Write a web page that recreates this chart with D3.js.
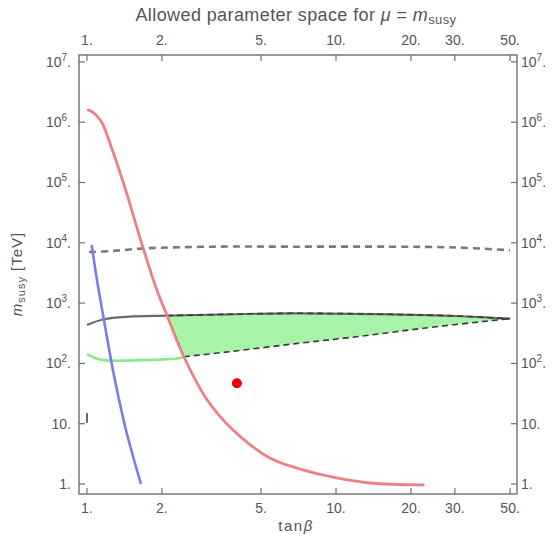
<!DOCTYPE html>
<html>
<head>
<meta charset="utf-8">
<script src="https://cdn.jsdelivr.net/npm/d3@7"></script>
<style>
  body { margin: 0; background: #fff; }
  text { font-family: "Liberation Sans", Arial, sans-serif; fill: #555; }
</style>
</head>
<body>
<svg id="chart" width="553" height="545"></svg>
<script>
// ---- data (tanβ on x, m_susy in TeV on y) ----
const xTicks = [1, 2, 5, 10, 20, 30, 50];
const xTickLabels = ["1.", "2.", "5.", "10.", "20.", "30.", "50."];
const yTicks = [1, 10, 1e2, 1e3, 1e4, 1e5, 1e6, 1e7];

// red bound
const redTan = [1.012, 1.05, 1.10, 1.152, 1.264, 1.43, 1.643, 1.888, 2.10, 2.45, 3.04, 3.86, 5.43, 7.37, 10.05, 13.7, 22.4];
const redM   = [1.59e6, 1.48e6, 1.25e6, 9.6e5, 3.47e5, 7.5e4, 1.11e4, 1870, 611, 129, 24.7, 7.87, 2.70, 1.71, 1.26, 1.04, 0.964];

// blue bound
const blueTan = [1.044, 1.097, 1.170, 1.249, 1.295, 1.434, 1.648];
const blueM   = [9180, 2415, 525, 114, 53, 7.87, 1.0];

// gray dashed upper bound
const grayTan = [1.02, 1.26, 1.72, 3.18, 6.91, 16.5, 30.6, 47.7, 50];
const grayM   = [7040, 7310, 8100, 8620, 8620, 8620, 8350, 7600, 7500];

// dark gray curve (upper edge of the allowed region)
const darkTan = [1.0, 1.17, 1.475, 2.10, 3.72, 6.54, 16.5, 30.6, 41.5, 50];
const darkM   = [433, 539, 595, 618, 652, 677, 652, 611, 573, 551];

// green curve
const greenTan = [1.0, 1.117, 1.264, 1.72, 2.34, 2.45];
const greenM   = [143, 117, 111, 114, 122, 129];

// lower edge of the allowed region
const lowerTan = [2.45, 3.72, 6.91, 12.1, 22.4, 41.5, 50];
const lowerM   = [129, 156, 213, 277, 382, 509, 551];

// short segment at tanβ = 1
const stubTan = [1.0, 1.0];
const stubM   = [10.3, 15];

// benchmark point
const pointTan = [4.0];
const pointM   = [47];

// ---- layout ----
const svg = d3.select("#chart");
const L = 79, R = 517, T = 55, B = 494;

const x = d3.scaleLog().domain([0.929, 53.3]).range([L, R]);
const y = d3.scaleLog().domain([0.683, 1.30e7]).range([B, T]);

const zip = (a, b) => a.map((v, i) => [v, b[i]]);
const mkLine = d3.line().x(d => x(d[0])).y(d => y(d[1])).curve(d3.curveCatmullRom.alpha(0.5));
const straight = d3.line().x(d => x(d[0])).y(d => y(d[1]));

const plot = svg.append("g");
plot.append("clipPath").attr("id", "clip")
  .append("rect").attr("x", L).attr("y", T).attr("width", R - L).attr("height", B - T);
const g = plot.append("g").attr("clip-path", "url(#clip)");

// allowed region: upper edge from the red crossing, lower edge back, closing along the red curve
const tUp = darkTan[darkTan.indexOf(2.10)];
const tLo = lowerTan[0];
const upperPts = zip(darkTan, darkM).filter(d => d[0] >= tUp);
const lowerPts = zip(lowerTan, lowerM).slice().reverse();
const redEdge = zip(redTan, redM).filter(d => d[0] >= tUp && d[0] <= tLo).reverse();

// region path: curved upper edge, curved lower edge, straight closing edge along red
const upperD = mkLine(upperPts);
const lowerD = mkLine(lowerPts).replace(/^M/, "L");
g.append("path")
  .attr("d", upperD + lowerD + "Z")
  .attr("fill", "#a8f3a8")
  .attr("stroke", "none");

// dark gray curve
g.append("path")
  .attr("d", mkLine(zip(darkTan, darkM)))
  .attr("fill", "none").attr("stroke", "#6a6a6a").attr("stroke-width", 2.2);

// green curve
g.append("path")
  .attr("d", mkLine(zip(greenTan, greenM)))
  .attr("fill", "none").attr("stroke", "#86ec86").attr("stroke-width", 2.6);

// dashed outline of the allowed region
const dashStyle = p => p.attr("fill", "none").attr("stroke", "#3a3a3a")
  .attr("stroke-width", 1.6).attr("stroke-dasharray", "6,4");
g.append("path").attr("d", mkLine(upperPts)).call(dashStyle);
g.append("path").attr("d", mkLine(zip(lowerTan, lowerM))).call(dashStyle);
g.append("path").attr("d", straight(redEdge)).call(dashStyle);

// gray dashed upper bound
g.append("path")
  .attr("d", mkLine(zip(grayTan, grayM)))
  .attr("fill", "none").attr("stroke", "#7a7a7a").attr("stroke-width", 2.6)
  .attr("stroke-dasharray", "7,5");

// short stub
g.append("path")
  .attr("d", straight(zip(stubTan, stubM)))
  .attr("fill", "none").attr("stroke", "#666").attr("stroke-width", 2);

// blue bound
g.append("path")
  .attr("d", mkLine(zip(blueTan, blueM)))
  .attr("fill", "none").attr("stroke", "#7b7bf0").attr("stroke-width", 2.6);

// red bound
g.append("path")
  .attr("d", mkLine(zip(redTan, redM)))
  .attr("fill", "none").attr("stroke", "#ef7f86").attr("stroke-width", 2.8)
  .attr("stroke-linecap", "round");

// benchmark point
g.selectAll("circle.pt").data(zip(pointTan, pointM)).enter().append("circle")
  .attr("class", "pt")
  .attr("cx", d => x(d[0])).attr("cy", d => y(d[1])).attr("r", 5)
  .attr("fill", "#ee0000");

// ---- frame and ticks ----
const frameColor = "#6f6f6f";
svg.append("rect").attr("x", L).attr("y", T).attr("width", R - L).attr("height", B - T)
  .attr("fill", "none").attr("stroke", frameColor).attr("stroke-width", 1.4);

const tickLen = 6;
const tickG = svg.append("g").attr("stroke", frameColor).attr("stroke-width", 1.2);
xTicks.forEach(t => {
  tickG.append("line").attr("x1", x(t)).attr("x2", x(t)).attr("y1", B).attr("y2", B - tickLen);
  tickG.append("line").attr("x1", x(t)).attr("x2", x(t)).attr("y1", T).attr("y2", T + tickLen);
});
yTicks.forEach(t => {
  tickG.append("line").attr("x1", L).attr("x2", L + tickLen).attr("y1", y(t)).attr("y2", y(t));
  tickG.append("line").attr("x1", R).attr("x2", R - tickLen).attr("y1", y(t)).attr("y2", y(t));
});

// x tick labels (top and bottom)
xTicks.forEach((t, i) => {
  [513, 45].forEach(by => {
    svg.append("text").attr("x", x(t)).attr("y", by)
      .attr("text-anchor", "middle").attr("font-size", 14)
      .text(xTickLabels[i]);
  });
});

// y tick labels (left and right), powers of ten with superscripts
function yLabel(sel, v) {
  const e = Math.round(Math.log10(v));
  if (e < 2) {
    sel.text((e === 0 ? "1" : "10") + ".");
  } else {
    sel.append("tspan").text("10");
    sel.append("tspan").attr("font-size", 10).attr("dy", -6).text(String(e));
    sel.append("tspan").attr("dy", 6).text(".");
  }
}
yTicks.forEach(t => {
  yLabel(svg.append("text").attr("x", 71).attr("y", y(t) + 5)
    .attr("text-anchor", "end").attr("font-size", 14), t);
  yLabel(svg.append("text").attr("x", 521).attr("y", y(t) + 5)
    .attr("text-anchor", "start").attr("font-size", 14), t);
});

// title
const title = svg.append("text").attr("x", 296).attr("y", 21)
  .attr("text-anchor", "middle").attr("font-size", 18).attr("letter-spacing", 0.4);
title.append("tspan").text("Allowed parameter space for ");
title.append("tspan").attr("font-style", "italic").text("μ");
title.append("tspan").text(" = ");
title.append("tspan").attr("font-style", "italic").text("m");
title.append("tspan").attr("font-size", 13).attr("dy", 3).text("susy");

// axis labels
const xl = svg.append("text").attr("x", 296).attr("y", 531)
  .attr("text-anchor", "middle").attr("font-size", 15).attr("letter-spacing", 1.5);
xl.append("tspan").text("tan");
xl.append("tspan").attr("font-style", "italic").text("β");

const yl = svg.append("text").attr("transform", "translate(22,274) rotate(-90)")
  .attr("text-anchor", "middle").attr("font-size", 15).attr("letter-spacing", 1);
yl.append("tspan").attr("font-style", "italic").text("m");
yl.append("tspan").attr("font-size", 11).attr("dy", 3).text("susy");
yl.append("tspan").attr("dy", -3).text(" [TeV]");
</script>
</body>
</html>
